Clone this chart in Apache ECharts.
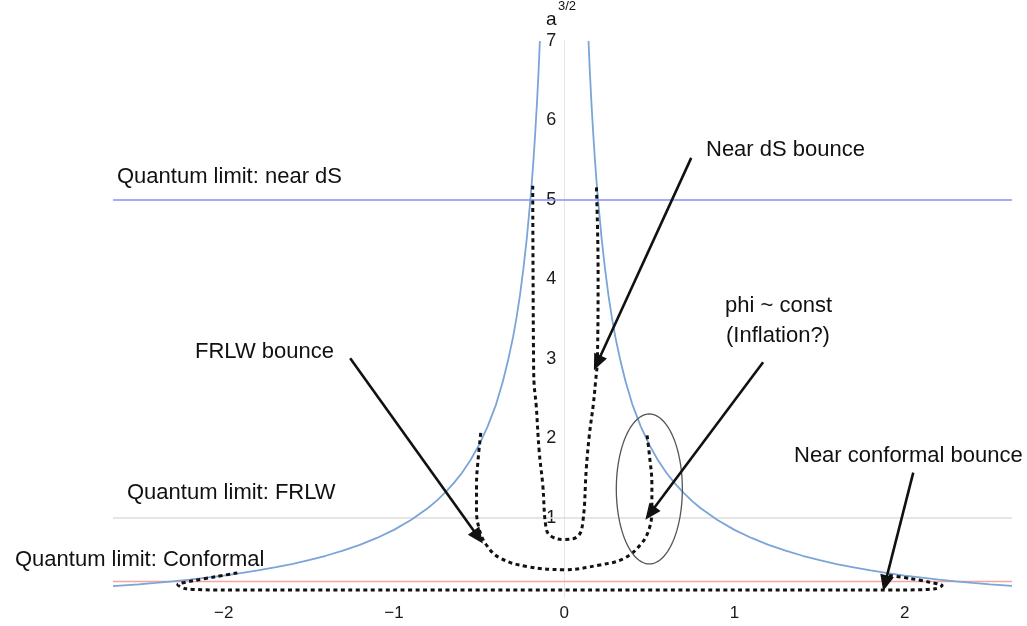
<!DOCTYPE html>
<html><head><meta charset="utf-8">
<script src="https://cdn.jsdelivr.net/npm/echarts@6/dist/echarts.min.js"></script>
<style>html,body{margin:0;padding:0;background:#fff}#c{width:1027px;height:626px}</style>
</head><body><div id="c"></div>
<script>
// ---- tick labels ----
const xTickValues = [-2, -1, 0, 1, 2];
const yTickValues = [1, 2, 3, 4, 5, 6, 7];

// ---- blue envelope curve ----
const blueLeftX  = [-2.65, -2.5, -2.4, -2.3, -2.2, -2.1, -2.0, -1.9, -1.8, -1.7, -1.6, -1.5, -1.4, -1.3, -1.2, -1.1, -1.0, -0.9, -0.8, -0.75, -0.7, -0.65, -0.6, -0.55, -0.5, -0.45, -0.4, -0.36, -0.33, -0.3, -0.28, -0.26, -0.24, -0.22, -0.2, -0.19, -0.18, -0.17, -0.16, -0.15, -0.143];
const blueLeftY  = [0.142, 0.165, 0.183, 0.203, 0.224, 0.249, 0.276, 0.306, 0.34, 0.378, 0.421, 0.47, 0.525, 0.589, 0.662, 0.749, 0.851, 0.974, 1.126, 1.216, 1.32, 1.435, 1.57, 1.73, 1.92, 2.15, 2.43, 2.72, 2.98, 3.28, 3.52, 3.80, 4.13, 4.51, 4.97, 5.23, 5.52, 5.85, 6.22, 6.64, 7.0];
const blueRightX = [0.143, 0.15, 0.16, 0.17, 0.18, 0.19, 0.2, 0.22, 0.24, 0.26, 0.28, 0.3, 0.33, 0.36, 0.4, 0.45, 0.5, 0.55, 0.6, 0.65, 0.7, 0.75, 0.8, 0.9, 1.0, 1.1, 1.2, 1.3, 1.4, 1.5, 1.6, 1.7, 1.8, 1.9, 2.0, 2.1, 2.2, 2.3, 2.4, 2.5, 2.63];
const blueRightY = [7.0, 6.64, 6.22, 5.85, 5.52, 5.23, 4.97, 4.51, 4.13, 3.80, 3.52, 3.28, 2.98, 2.72, 2.43, 2.15, 1.92, 1.73, 1.57, 1.435, 1.32, 1.216, 1.126, 0.974, 0.851, 0.749, 0.662, 0.589, 0.525, 0.47, 0.421, 0.378, 0.34, 0.306, 0.276, 0.249, 0.224, 0.203, 0.183, 0.165, 0.145];

// ---- dashed trajectories ----
const innerX = [-0.185, -0.183, -0.18, -0.177, -0.165, -0.147, -0.126, -0.106, -0.077, 0, 0.08, 0.11, 0.13, 0.148, 0.171, 0.183, 0.195, 0.199, 0.189];
const innerY = [5.18, 4.1, 3.0, 2.69, 2.43, 1.84, 1.42, 0.87, 0.77, 0.73, 0.77, 0.96, 1.63, 2.05, 2.43, 2.69, 3.0, 4.1, 5.18];
const outerX = [-0.49, -0.505, -0.515, -0.515, -0.5, -0.46, -0.38, -0.22, 0, 0.21, 0.35, 0.45, 0.5, 0.515, 0.515, 0.5, 0.485];
const outerY = [2.07, 1.75, 1.42, 1.1, 0.87, 0.67, 0.5, 0.39, 0.35, 0.41, 0.49, 0.67, 0.87, 1.12, 1.42, 1.8, 2.07];
const bottomX = [-1.92, -2.05, -2.18, -2.27, -2.22, -2.0, -1.0, 0, 1.0, 2.0, 2.18, 2.22, 2.15, 2.03, 1.9];
const bottomY = [0.31, 0.26, 0.21, 0.16, 0.11, 0.095, 0.095, 0.095, 0.095, 0.095, 0.11, 0.15, 0.19, 0.24, 0.28];

// ---- quantum limit levels ----
const limitNames  = ['near dS', 'FRLW', 'Conformal'];
const limitValues = [5, 1, 0.2];

// ---- annotation arrows [x1, y1, x2, y2] in data units ----
const arrowNear_dS   = [0.746, 5.53, 0.194, 2.95];
const arrowFRLW      = [-1.257, 3.01, -0.505, 0.76];
const arrowPhi       = [1.168, 2.96, 0.505, 1.06];
const arrowConformal = [2.05, 1.57, 1.885, 0.18];

// ---- ellipse (cx, cy, rx, ry) data units ----
const ellipseSpec = [0.5, 1.365, 0.194, 0.943];

const X_MIN = -2.65, X_MAX = 2.63;
const zip = (xs, ys) => xs.map((x, i) => [x, ys[i]]);
const FONT = 'Liberation Sans, Arial, Helvetica, sans-serif';

const limitColors = ['#8c8cf4', '#dddddd', '#f6a4a4'];
const limitSeries = limitValues.map((v, i) => ({
  type: 'line', name: 'Quantum limit: ' + limitNames[i],
  data: [[X_MIN, v], [X_MAX, v]], symbol: 'none', silent: true, z: 1,
  lineStyle: { color: limitColors[i], width: 1.5 }
}));

const arrowItem = a => [{ coord: [a[0], a[1]] }, { coord: [a[2], a[3]] }];

const dashStyle = { color: '#111', width: 3, type: [4, 3.5] };

const GRID_LEFT = 113, GRID_RIGHT = 15;
const plotW = 1027 - GRID_LEFT - GRID_RIGHT;
const zeroOffset = plotW * (0 - X_MIN) / (X_MAX - X_MIN);

const chart = echarts.init(document.getElementById('c'), null, { renderer: 'canvas' });
chart.setOption({
  animation: false,
  backgroundColor: '#fff',
  grid: { left: GRID_LEFT, right: GRID_RIGHT, top: 41, bottom: 28.5 },
  xAxis: {
    type: 'value', min: X_MIN, max: X_MAX,
    axisLine: { show: false },
    axisTick: { show: false },
    splitLine: { show: false },
    axisLabel: {
      customValues: xTickValues, fontSize: 17, color: '#1a1a1a', margin: 7, fontFamily: FONT,
      formatter: v => String(v).replace('-', '\u2212')
    }
  },
  yAxis: {
    type: 'value', min: 0, max: 7, interval: 1,
    position: 'left', offset: -zeroOffset,
    axisLine: { show: true, onZero: false, lineStyle: { color: '#e2e2e2', type: 'dotted', width: 1 } },
    axisTick: { show: false },
    splitLine: { show: false },
    axisLabel: {
      fontSize: 18, color: '#1a1a1a', margin: 8, fontFamily: FONT,
      formatter: v => (yTickValues.indexOf(v) >= 0 ? String(v) : '')
    }
  },
  series: [
    ...limitSeries,
    { type: 'line', name: 'blueL', data: zip(blueLeftX, blueLeftY), symbol: 'none', smooth: false, z: 2,
      lineStyle: { color: '#7ba4d7', width: 1.8 } },
    { type: 'line', name: 'blueR', data: zip(blueRightX, blueRightY), symbol: 'none', smooth: false, z: 2,
      lineStyle: { color: '#7ba4d7', width: 1.8 } },
    { type: 'line', name: 'inner', data: zip(innerX, innerY), symbol: 'none', smooth: 0.4, z: 3, lineStyle: dashStyle,
      markLine: {
        silent: true, symbol: ['none', 'triangle'], symbolSize: [14, 16],
        label: { show: false },
        lineStyle: { color: '#111', width: 2.6, type: 'solid' },
        data: [arrowItem(arrowNear_dS), arrowItem(arrowFRLW), arrowItem(arrowPhi), arrowItem(arrowConformal)]
      } },
    { type: 'line', name: 'outer', data: zip(outerX, outerY), symbol: 'none', smooth: 0.4, z: 3, lineStyle: dashStyle },
    { type: 'line', name: 'bottom', data: zip(bottomX, bottomY), symbol: 'none', smooth: 0.3, z: 3, lineStyle: dashStyle },
    { type: 'custom', name: 'ellipse', silent: true, z: 4,
      data: [ellipseSpec],
      renderItem: (params, api) => {
        const c = api.coord([api.value(0), api.value(1)]);
        const s = api.size([api.value(2), api.value(3)]);
        const pts = [];
        for (let k = 0; k <= 96; k++) {
          const t = k / 96 * Math.PI * 2;
          pts.push([c[0] + s[0] * Math.cos(t), c[1] + s[1] * Math.sin(t)]);
        }
        return { type: 'polygon', shape: { points: pts }, style: { fill: 'none', stroke: '#555', lineWidth: 1.3 } };
      } }
  ],
  graphic: [
    { type: 'text', x: 117, y: 166, style: { text: 'Quantum limit: near dS', font: '22px ' + FONT, fill: '#111' } },
    { type: 'text', x: 127, y: 482, style: { text: 'Quantum limit: FRLW', font: '22px ' + FONT, fill: '#111' } },
    { type: 'text', x: 15, y: 549, style: { text: 'Quantum limit: Conformal', font: '22px ' + FONT, fill: '#111' } },
    { type: 'text', x: 195, y: 341, style: { text: 'FRLW bounce', font: '22px ' + FONT, fill: '#111' } },
    { type: 'text', x: 706, y: 139, style: { text: 'Near dS bounce', font: '22px ' + FONT, fill: '#111' } },
    { type: 'text', x: 725, y: 295, style: { text: 'phi ~ const', font: '22px ' + FONT, fill: '#111' } },
    { type: 'text', x: 726, y: 325, style: { text: '(Inflation?)', font: '22px ' + FONT, fill: '#111' } },
    { type: 'text', x: 794, y: 445, style: { text: 'Near conformal bounce', font: '22px ' + FONT, fill: '#111' } },
    { type: 'text', x: 546, y: 10, style: { text: 'a', font: '19px ' + FONT, fill: '#111' } },
    { type: 'text', x: 558, y: 0, style: { text: '3/2', font: '13px ' + FONT, fill: '#111' } }
  ]
});
</script>
</body></html>
